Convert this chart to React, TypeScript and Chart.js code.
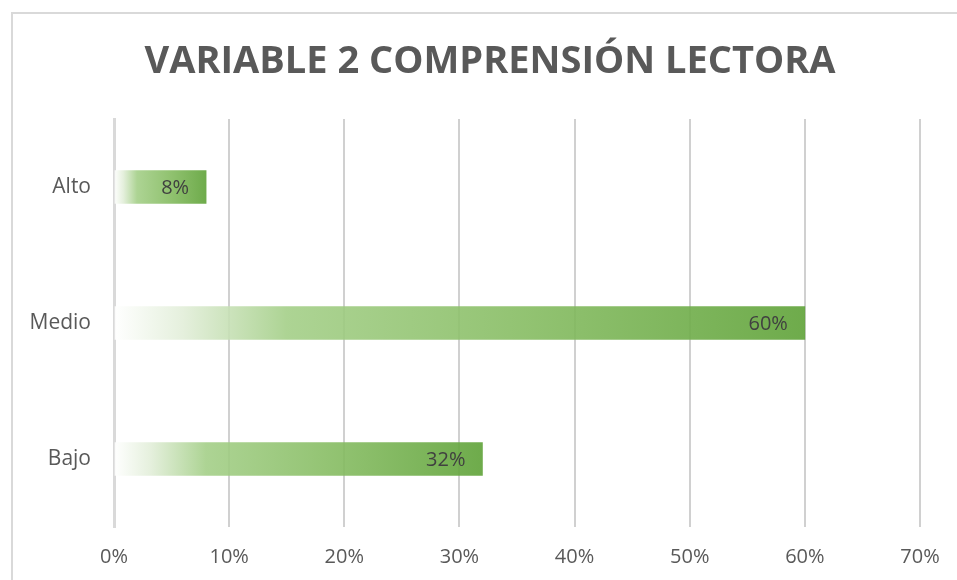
import React, { useEffect, useRef } from "react";
import { Chart, registerables } from "chart.js";

Chart.register(...registerables);

const TITLE = "VARIABLE 2 COMPRENSIÓN LECTORA";
const categories = ["Alto", "Medio", "Bajo"];
const values = [8, 60, 32];
const xTicksMax = 70;
const xTickStep = 10;

const FONT = "'Open Sans', 'DejaVu Sans', sans-serif";

const framePlugin = {
  id: "frame",
  beforeDraw(chart: any) {
    const ctx = chart.ctx;
    ctx.save();
    ctx.fillStyle = "#ffffff";
    ctx.fillRect(0, 0, chart.width, chart.height);
    ctx.strokeStyle = "#d9d9d9";
    ctx.lineWidth = 2;
    ctx.strokeRect(12, 13, chart.width + 20, chart.height + 20);
    ctx.fillStyle = "#595959";
    ctx.font = `bold 38px ${FONT}`;
    ctx.textAlign = "center";
    ctx.textBaseline = "alphabetic";
    ctx.fillText(TITLE, 490, 73);
    ctx.restore();
  },
};

const labelPlugin = {
  id: "barLabels",
  afterDatasetsDraw(chart: any) {
    const ctx = chart.ctx;
    const meta = chart.getDatasetMeta(0);
    ctx.save();
    ctx.fillStyle = "#404040";
    ctx.font = `20px ${FONT}`;
    ctx.textAlign = "right";
    ctx.textBaseline = "middle";
    meta.data.forEach((bar: any, i: number) => {
      ctx.fillText(values[i] + "%", bar.x - 17, bar.y + 1);
    });
    ctx.restore();
  },
};

export default function App() {
  const ref = useRef<HTMLCanvasElement | null>(null);
  useEffect(() => {
    if (!ref.current) return;
    const chart = new Chart(ref.current, {
      type: "bar",
      data: {
        labels: categories,
        datasets: [
          {
            data: values,
            barThickness: 33,
            borderWidth: 0,
            backgroundColor: (c: any) => {
              const ch = c.chart;
              const xs = ch.scales && ch.scales.x;
              if (!xs || !ch.chartArea || c.raw == null) return "#70ad47";
              const x0 = xs.getPixelForValue(0);
              const x1 = xs.getPixelForValue(c.raw);
              const g = ch.ctx.createLinearGradient(x0, 0, x1, 0);
              g.addColorStop(0, "rgba(255,255,255,0.9)");
              g.addColorStop(0.1, "rgba(226,238,217,0.9)");
              g.addColorStop(0.25, "rgba(164,207,136,0.9)");
              g.addColorStop(0.6, "rgba(134,188,98,0.9)");
              g.addColorStop(1, "rgba(98,164,60,0.92)");
              return g;
            },
          },
        ],
      },
      options: {
        indexAxis: "y",
        animation: false,
        responsive: false,
        maintainAspectRatio: false,
        layout: { padding: { left: 0, right: 60, top: 119, bottom: 0 } },
        plugins: {
          legend: { display: false },
          title: { display: false },
          tooltip: { enabled: false },
        },
        scales: {
          x: {
            min: 0,
            max: xTicksMax,
            ticks: {
              stepSize: xTickStep,
              color: "#595959",
              font: { family: FONT, size: 20 },
              padding: 18,
              callback: (v: any) => v + "%",
            },
            grid: { color: "#d0d0d0", lineWidth: 2, drawTicks: false },
            border: { display: false },
            afterFit: (s: any) => {
              s.height = 53;
            },
          },
          y: {
            ticks: {
              color: "#595959",
              font: { family: FONT, size: 21 },
              padding: 23,
            },
            grid: { display: false, drawTicks: false },
            border: { display: true, color: "#d9d9d9", width: 3 },
            afterFit: (s: any) => {
              s.width = 114;
            },
          },
        },
      },
      plugins: [framePlugin, labelPlugin],
    } as any);
    return () => chart.destroy();
  }, []);
  return (
    <div
      style={{
        position: "fixed",
        left: 0,
        top: 0,
        width: 957,
        height: 580,
        overflow: "hidden",
        background: "#fff",
      }}
    >
      <canvas ref={ref} width={980} height={580} style={{ display: "block" }} />
    </div>
  );
}
